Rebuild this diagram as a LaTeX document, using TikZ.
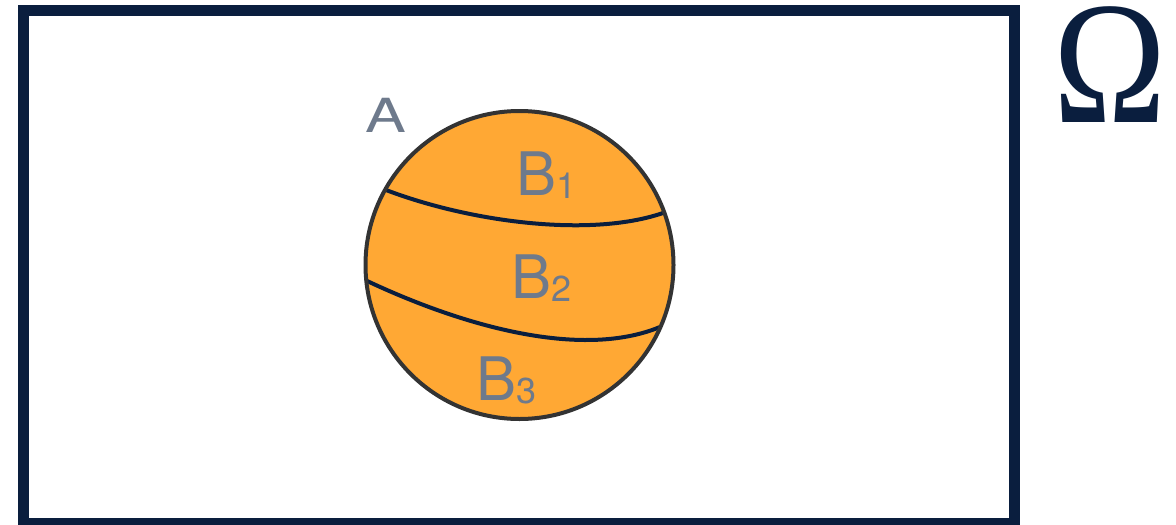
\documentclass[tikz,border=0pt]{standalone}
\usepackage{fontspec}
\setmainfont{TeX Gyre Heros}
\newfontfamily\omegafont{Liberation Serif}
\definecolor{omnavy}{RGB}{10,30,62}
\definecolor{vorange}{RGB}{255,168,52}
\definecolor{vedge}{RGB}{51,51,51}
\definecolor{vtext}{RGB}{110,122,140}
\usetikzlibrary{positioning}

\begin{document}
\begin{tikzpicture}[x=1pt,y=-1pt,
  setlbl/.style={text=vtext, inner sep=0pt, anchor=base west, font=\fontsize{60}{60}\selectfont},
  divline/.style={omnavy, line width=4pt}]
  \useasboundingbox (0,0) rectangle (1176,525);

  %% sample space
  \draw[omnavy, line width=11pt] (23.5,10) rectangle (1014.5,523);
  \node[anchor=base, inner sep=0pt, text=omnavy, font=\fontsize{175}{175}\omegafont] (omega) at (1110,122) {\scalebox{0.87}[1]{Ω}};

  %% event A split into B1, B2, B3
  \fill[vorange] (519.5,265) circle[radius=154];
  \begin{scope}
    \clip (519.5,265) circle[radius=154];
    \draw[divline] (386,190) .. controls (470,222) and (590,238) .. (663,213);
    \draw[divline] (365,280) .. controls (460,325) and (580,360) .. (660,327);
  \end{scope}
  \draw[vedge, line width=4pt] (519.5,265) circle[radius=154];

  \node[setlbl, font=\fontsize{47}{47}\selectfont] (labelA) at (365,132) {\scalebox{1.3}[1]{A}};
  \node[setlbl] (labelB1) at (516,195) {B\raisebox{-3pt}{\fontsize{36}{36}\selectfont 1}};
  \node[setlbl] (labelB2) at (511,298) {B\raisebox{-3pt}{\fontsize{36}{36}\selectfont 2}};
  \node[setlbl] (labelB3) at (476,400) {B\raisebox{-3pt}{\fontsize{36}{36}\selectfont 3}};
\end{tikzpicture}
\end{document}
